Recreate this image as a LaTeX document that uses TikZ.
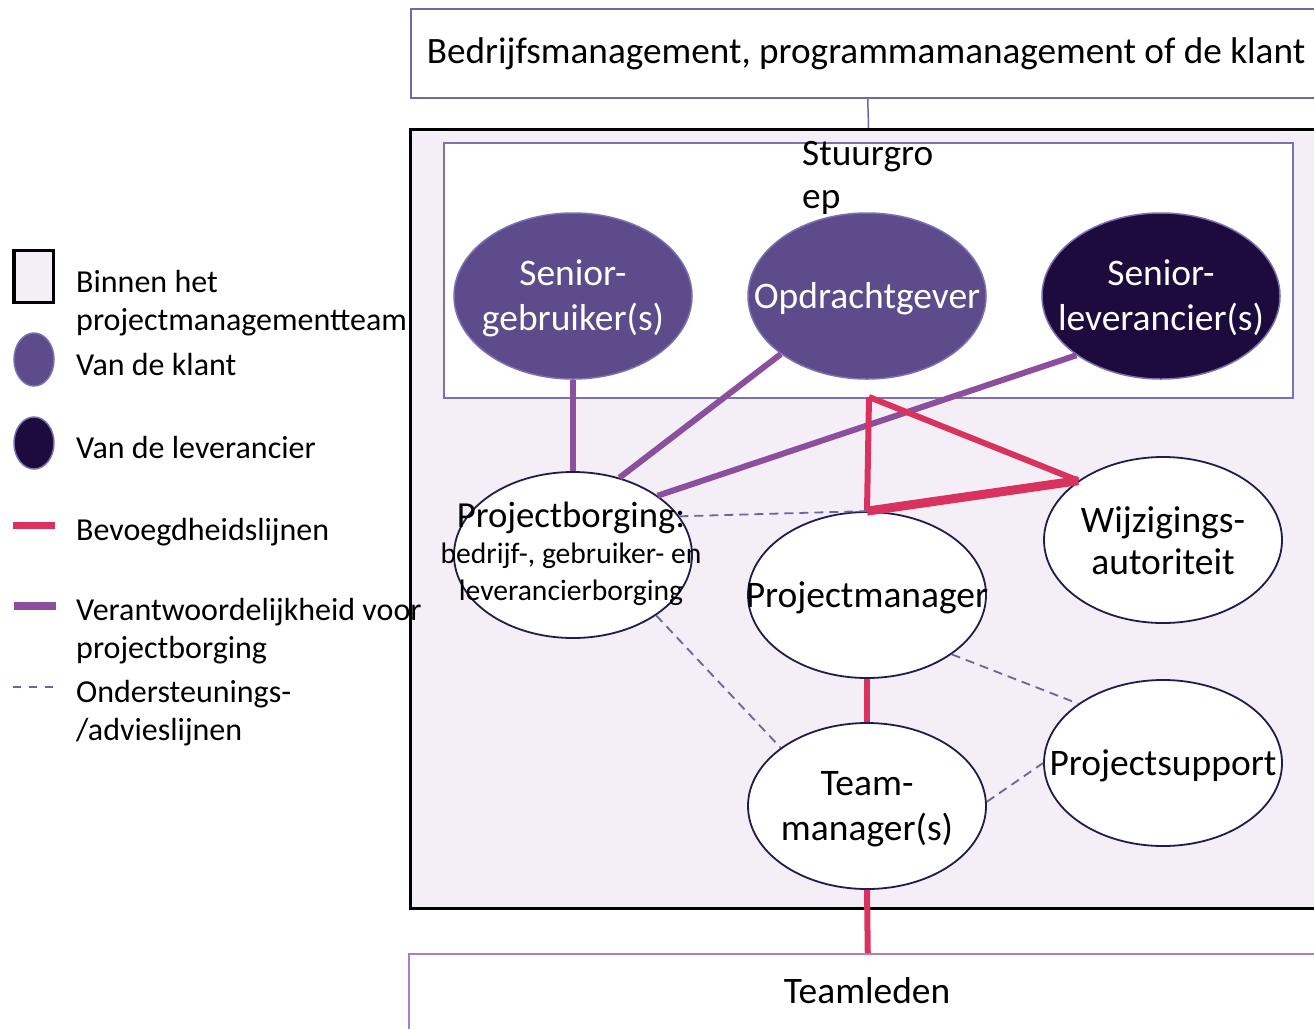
\documentclass[tikz,border=0pt]{standalone}
\usepackage{fontspec}
\setmainfont{Carlito}
\usetikzlibrary{shapes.geometric}
\definecolor{bgteam}{HTML}{F4EFF6}
\definecolor{klant}{HTML}{5E4B8B}
\definecolor{lever}{HTML}{1E0B3D}
\definecolor{rimlight}{HTML}{7D70B2}
\definecolor{rimdark}{HTML}{221B4E}
\definecolor{authred}{HTML}{DA325F}
\definecolor{assurepurple}{HTML}{8B4F9E}
\definecolor{advice}{HTML}{6B63A6}
\definecolor{boxedge}{HTML}{6E68A8}
\definecolor{teamedge}{HTML}{B07CC8}
\begin{document}
\begin{tikzpicture}[x=1bp,y=-1bp,
  role/.style={ellipse, minimum width=238bp, minimum height=166bp, inner sep=0pt},
  clientrole/.style={role, fill=klant, draw=rimlight, line width=1.5bp},
  supplierrole/.style={role, fill=lever, draw=rimlight, line width=1.5bp},
  plainrole/.style={role, fill=white, draw=rimdark, line width=1.8bp},
  rolefont/.style={anchor=base, inner sep=0pt, font=\fontsize{37.5bp}{45bp}\selectfont, align=center},
  authority/.style={draw=authred, line width=6bp},
  assurance/.style={draw=assurepurple, line width=6bp},
  support/.style={draw=advice, line width=1.8bp, dash pattern=on 9bp off 6bp},
  legendtext/.style={anchor=base west, font=\fontsize{32bp}{38bp}\selectfont, align=left, inner sep=0pt},
]
\useasboundingbox (0,0) rectangle (1314,1028);
\clip (0,0) rectangle (1314,1028);

% outer boxes
\node[draw=boxedge, line width=1.5bp, minimum width=914bp, minimum height=89bp, anchor=north west, inner sep=0pt] (top) at (410,8) {};
\node[anchor=base, inner sep=0pt, font=\fontsize{37.2bp}{44bp}\selectfont] (toptext) at (866,63) {Bedrijfsmanagement, programmamanagement of de klant};
\node[draw=black, fill=bgteam, line width=3bp, minimum width=916bp, minimum height=779bp, anchor=north west, inner sep=0pt] (team) at (409,128) {};
\draw[draw=boxedge, line width=1.5bp] (top.south) -- (team.north);
\node[draw=rimlight, fill=white, line width=1.5bp, minimum width=849bp, minimum height=255bp, anchor=north west, inner sep=0pt] (sgroup) at (443,142) {};
\node[anchor=base west, inner sep=0pt, align=left, font=\fontsize{37.3bp}{43bp}\selectfont] (sglabel) at (802,208) {Stuurgro\\ep};
\node[draw=teamedge, line width=1.5bp, minimum width=918bp, minimum height=100bp, anchor=north west, inner sep=0pt] (leden) at (408,953) {};
\node[anchor=base, inner sep=0pt, font=\fontsize{37.4bp}{44bp}\selectfont] (ledentext) at (867,1003) {Teamleden};

% role ellipses
\node[clientrole] (sg) at (573,296) {};
\node[clientrole] (od) at (867,296) {};
\node[supplierrole] (sl) at (1161,296) {};
\node[plainrole] (pb) at (573,555) {};
\node[plainrole] (pm) at (867,595) {};
\node[plainrole] (wa) at (1163,540) {};
\node[plainrole] (ps) at (1163,763) {};
\node[plainrole] (tm) at (867,806) {};
\coordinate (apex) at (869,397);

% connectors
\draw[assurance] (sg.south) -- (pb.north);
\draw[assurance] (od.214) -- (pb.59);
\draw[assurance] (sl.215) -- (pb.35);
\draw[authority] (apex) -- (pm.north);
\draw[authority] (apex) -- (wa.145);
\draw[authred, line width=9bp] (pm.north) -- (wa.145);
\draw[authority] (pm.south) -- (tm.north);
\draw[authority] (tm.south) -- (leden.north);
\draw[support] (pb.20) -- (pm.north);
\draw[support] (pb.-36) -- (tm.146);
\draw[support] (pm.-35) -- (ps.145);
\draw[support] (tm.2) -- (ps.180);

% labels in the ellipses
\node[rolefont, text=white] (sgt) at (573,330) {Senior-\\gebruiker(s)};
\node[rolefont, text=white] (odt) at (867,308) {Opdrachtgever};
\node[rolefont, text=white] (slt) at (1161,330) {Senior-\\leverancier(s)};
\node[anchor=base, inner sep=0pt, font=\fontsize{36.7bp}{44bp}\selectfont] (pbt) at (571,527) {Projectborging:};
\node[anchor=base, inner sep=0pt, align=center, font=\fontsize{29.6bp}{37bp}\selectfont] (pbs) at (571,600) {bedrijf-, gebruiker- en\\leverancierborging};
\node[rolefont] (pmt) at (867,607) {Projectmanager};
\node[rolefont, font=\fontsize{37.5bp}{42bp}\selectfont] (wat) at (1163,574) {Wijzigings-\\autoriteit};
\node[rolefont] (pst) at (1163,775) {Projectsupport};
\node[rolefont] (tmt) at (867,840) {Team-\\manager(s)};

% legend
\node[draw=black, fill=bgteam, line width=3bp, minimum width=39bp, minimum height=52bp, inner sep=0pt] (lgbox) at (33.5,276) {};
\node[legendtext] (lgboxt) at (76,330) {Binnen het\\projectmanagementteam};
\node[ellipse, fill=klant, draw=rimlight, line width=1.5bp, minimum width=40bp, minimum height=53bp, inner sep=0pt] (lgkl) at (34,359.5) {};
\node[legendtext] (lgklt) at (76,375) {Van de klant};
\node[ellipse, fill=lever, draw=rimlight, line width=1.5bp, minimum width=40bp, minimum height=52bp, inner sep=0pt] (lglv) at (34,443) {};
\node[legendtext] (lglvt) at (76,458) {Van de leverancier};
\coordinate (r1) at (13,525.5); \coordinate (r2) at (55,525.5);
\draw[authority, line width=7.5bp] (r1) -- (r2);
\node[legendtext] (lgrt) at (76,540) {Bevoegdheidslijnen};
\coordinate (p1) at (14,606); \coordinate (p2) at (56,606);
\draw[assurance, line width=7.5bp] (p1) -- (p2);
\node[legendtext] (lgpt) at (76,658) {Verantwoordelijkheid voor\\projectborging};
\coordinate (d1) at (13,687); \coordinate (d2) at (56,687);
\draw[support, dash pattern=on 8bp off 8bp] (d1) -- (d2);
\node[legendtext] (lgdt) at (76,740) {Ondersteunings-\\/advieslijnen};
\end{tikzpicture}
\end{document}
